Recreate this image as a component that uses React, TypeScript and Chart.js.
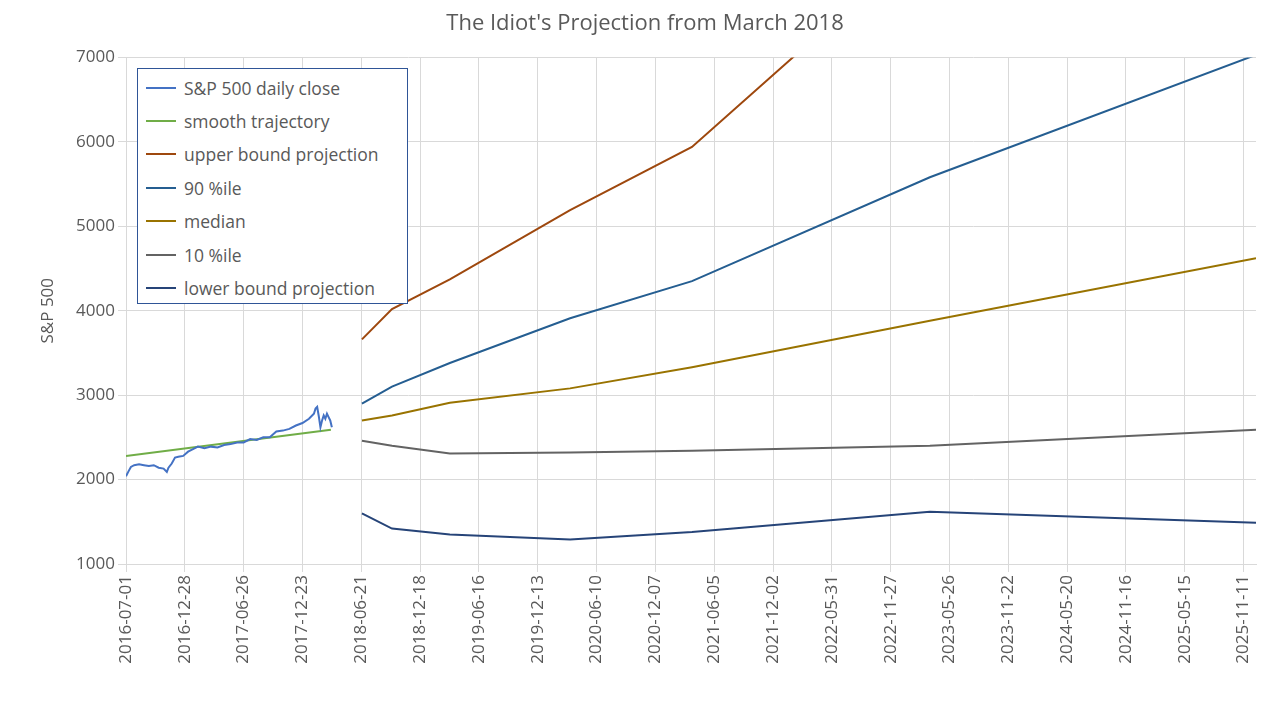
import React, { useEffect, useRef } from "react";
import { Chart, registerables } from "chart.js";
Chart.register(...registerables);

// x values are days since 2016-07-01
const tickLabels = ["2016-07-01","2016-12-28","2017-06-26","2017-12-23","2018-06-21","2018-12-18","2019-06-16","2019-12-13","2020-06-10","2020-12-07","2021-06-05","2021-12-02","2022-05-31","2022-11-27","2023-05-26","2023-11-22","2024-05-20","2024-11-16","2025-05-15","2025-11-11"];
const closeDays = [0,8,15,25,40,55,70,85,100,115,125,130,140,150,160,175,190,205,220,240,260,280,300,320,340,360,380,400,420,440,460,480,500,520,540,560,575,580,585,590,595,600,605,610,615,620,625,630];
const closeVals = [2040,2100,2150,2170,2180,2170,2160,2170,2140,2130,2090,2140,2190,2260,2270,2280,2330,2360,2390,2370,2390,2380,2410,2420,2440,2440,2480,2470,2500,2500,2570,2580,2600,2640,2670,2720,2780,2840,2860,2750,2620,2700,2760,2720,2780,2740,2700,2620];
const smoothDays = [0, 627];
const smoothVals = [2280, 2590];
const projDays = [722, 814, 991, 1359, 1732, 2460, 3458];
const upperVals = [3660, 4020, 4370, 5190, 5940, 8440, 11500];
const p90Vals = [2900, 3100, 3380, 3910, 4350, 5580, 7030];
const medianVals = [2700, 2760, 2910, 3080, 3330, 3880, 4620];
const p10Vals = [2460, 2400, 2310, 2320, 2340, 2400, 2590];
const lowerVals = [1600, 1420, 1350, 1290, 1380, 1620, 1490];

const series = [
  { label: "S&P 500 daily close", color: "#4472C4", days: closeDays, vals: closeVals },
  { label: "smooth trajectory", color: "#70AD47", days: smoothDays, vals: smoothVals },
  { label: "upper bound projection", color: "#9E480E", days: projDays, vals: upperVals },
  { label: "90 %ile", color: "#255E91", days: projDays, vals: p90Vals },
  { label: "median", color: "#997300", days: projDays, vals: medianVals },
  { label: "10 %ile", color: "#636363", days: projDays, vals: p10Vals },
  { label: "lower bound projection", color: "#264478", days: projDays, vals: lowerVals },
];

export default function App() {
  const ref = useRef<HTMLCanvasElement>(null);
  useEffect(() => {
    const font = { family: "'Open Sans', 'DejaVu Sans', sans-serif", size: 17 };
    const chart = new Chart(ref.current!, {
      type: "line",
      data: {
        datasets: series.map((s) => ({
          label: s.label,
          data: s.days.map((d, i) => ({ x: d, y: s.vals[i] })),
          borderColor: s.color,
          backgroundColor: s.color,
          borderWidth: 2,
          pointRadius: 0,
          tension: 0,
        })),
      },
      options: {
        animation: false,
        responsive: false,
        layout: { padding: { right: 24, top: 0, left: 34, bottom: 0 } },
        plugins: {
          legend: { display: false },
          tooltip: { enabled: false },
          title: { display: true, text: "The Idiot's Projection from March 2018", color: "#595959", font: { ...font, size: 22, weight: "normal" }, padding: { top: 11, bottom: 20 } },
        },
        scales: {
          x: {
            type: "linear", min: 0, max: 3458,
            afterBuildTicks: (ax: any) => { ax.ticks = tickLabels.map((_, i) => ({ value: i * 180 })); },
            afterFit: (ax: any) => { ax.height = 156; },
            ticks: { color: "#595959", font, maxRotation: 90, minRotation: 90, callback: (v: any) => tickLabels[Math.round(v / 180)] ?? "" },
            grid: { color: "#d9d9d9" },
            border: { color: "#d9d9d9" },
          },
          y: {
            min: 1000, max: 7000,
            afterFit: (ax: any) => { ax.width = 92; },
            ticks: { stepSize: 1000, color: "#595959", font, callback: (v: any) => String(v) },
            grid: { color: "#d9d9d9" },
            border: { display: false },
            title: { display: true, text: "S&P 500", color: "#595959", font },
          },
        },
      },
    } as any);
    return () => chart.destroy();
  }, []);
  return (
    <div style={{ position: "fixed", left: 0, top: 0, width: 1280, height: 720, background: "#fff" }}>
      <canvas ref={ref} width={1280} height={720} />
      <div style={{ position: "absolute", left: 137, top: 68, width: 271, height: 236, background: "#fff", border: "1px solid #2F5597", boxSizing: "border-box", padding: "2px 0 0 8px", fontFamily: "'Open Sans', 'DejaVu Sans', sans-serif", fontSize: 17.5, color: "#595959" }}>
        {series.map((s) => (
          <div key={s.label} style={{ display: "flex", alignItems: "center", height: 33.4 }}>
            <span style={{ display: "inline-block", width: 30, height: 2, background: s.color, marginRight: 8 }} />
            {s.label}
          </div>
        ))}
      </div>
    </div>
  );
}
